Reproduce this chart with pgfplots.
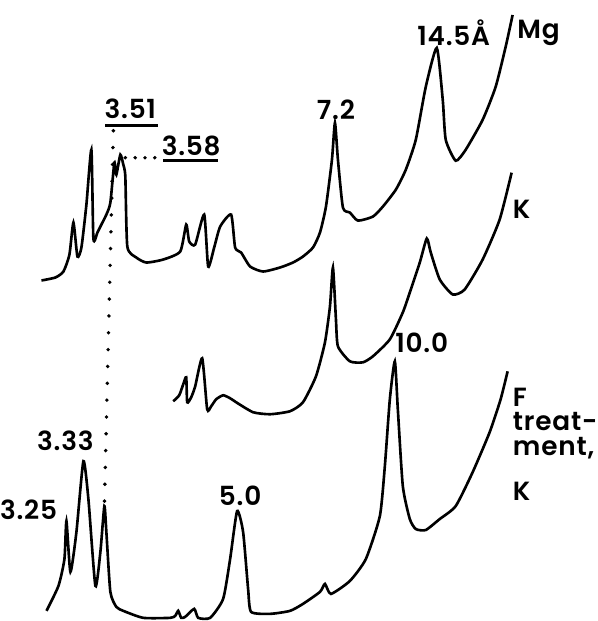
\documentclass[border=0pt]{standalone}
\usepackage{pgfplots}
\pgfplotsset{compat=1.18}
\usepackage{fontspec}
\setmainfont{Poppins}[UprightFont={* SemiBold}, LetterSpace=3]

\tikzset{lbl/.style={font=\fontsize{15}{15}\selectfont, inner sep=0pt}}

\begin{document}
\begin{tikzpicture}
\begin{axis}[
    scale only axis,
    width=11.76cm,
    height=12.42cm,
    xmin=0, xmax=588,
    ymin=0, ymax=621,
    y dir=reverse,
    axis line style={draw=none},
    ticks=none,
    clip=false,
]
% Mg trace
\addplot[black, line width=1.5pt, smooth, tension=0.35] coordinates {
    (38,281) (52,278) (60,272) (66,255) (70,223) (74,257) (78,248) (83,205) (88,150)
    (90,239) (94,233) (97,227) (103,215) (107,203) (111,163) (113,175) (117,155)
    (120,165) (122,177) (124,247) (133,258) (143,263) (160,260) (177,252)
    (183,225) (186,242) (192,245) (201,215) (205,267) (211,248) (217,227) (228,215)
    (232,248) (238,253) (247,267) (260,272) (277,268) (290,263) (300,257)
    (310,248) (317,233) (323,207) (329,160) (332,123) (335,160) (340,208)
    (347,213) (355,221) (370,217) (380,207) (393,190) (403,170) (413,140)
    (423,87) (434,48) (440,100) (443,140) (453,161) (463,150) (480,120)
    (493,87) (503,47) (510,15)
};
% K trace
\addplot[black, line width=1.5pt, smooth, tension=0.35] coordinates {
    (170,402) (176,396) (180,385) (183,378) (184,403) (188,398) (192,387) (199,359)
    (204,410) (208,407) (213,400) (220,396) (227,399) (233,403) (250,413)
    (267,415) (287,412) (300,403) (313,377) (322,343) (327,307) (330,268)
    (333,320) (335,347) (347,362) (360,363) (370,357) (387,340) (400,313)
    (407,293) (417,263) (424,239) (428,253) (437,280) (450,295) (462,290)
    (480,260) (497,220) (509,173)
};
% F treatment, K trace
\addplot[black, line width=1.5pt, smooth, tension=0.35] coordinates {
    (43,612) (55,587) (61,560) (63,522) (67,573) (73,533) (80,462) (85,500)
    (92,587) (97,553) (101,507) (103,533) (107,593) (113,608) (120,612)
    (140,619) (167,619) (172,617) (175,612) (178,619) (182,618) (191,610) (195,619)
    (207,619) (220,600) (227,560) (234,512) (240,533) (245,590) (248,613)
    (267,615) (287,612) (300,605) (317,593) (322,585) (328,595) (347,582)
    (363,560) (377,517) (382,467) (387,400) (392,362) (395,410) (400,487)
    (407,520) (413,530) (423,531) (437,520) (453,507) (470,473) (487,433)
    (498,400) (505,372)
};
% underlines
\addplot[black, line width=1.6pt] coordinates {(102,126) (155,126)};
\addplot[black, line width=1.6pt] coordinates {(160,161) (215,161)};
% dotted guide lines
\addplot[black, line width=2.2pt, line cap=round, dash pattern=on 0pt off 9.6pt]
    coordinates {(110,131) (101,507)};
\addplot[black, line width=2.2pt, line cap=round, dash pattern=on 0pt off 5.6pt]
    coordinates {(122,158) (154,158)};
% labels
\node[lbl] at (axis cs:127,109) {3.51};
\node[lbl] at (axis cs:188,146) {3.58};
\node[lbl] at (axis cs:333,110) {7.2};
\node[lbl] at (axis cs:451,33) {14.5Å};
\node[lbl] at (axis cs:536,33) {Mg};
\node[lbl] at (axis cs:519,210) {K};
\node[lbl] at (axis cs:419,343) {10.0};
\node[lbl] at (axis cs:62,442) {3.33};
\node[lbl] at (axis cs:25,511) {3.25};
\node[lbl] at (axis cs:237,497) {5.0};
\node[lbl, anchor=west] at (axis cs:510,398) {F};
\node[lbl, anchor=west] at (axis cs:510,422) {treat-};
\node[lbl, anchor=west] at (axis cs:510,449) {ment,};
\node[lbl, anchor=west] at (axis cs:510,492) {K};
\end{axis}
\end{tikzpicture}
\end{document}
